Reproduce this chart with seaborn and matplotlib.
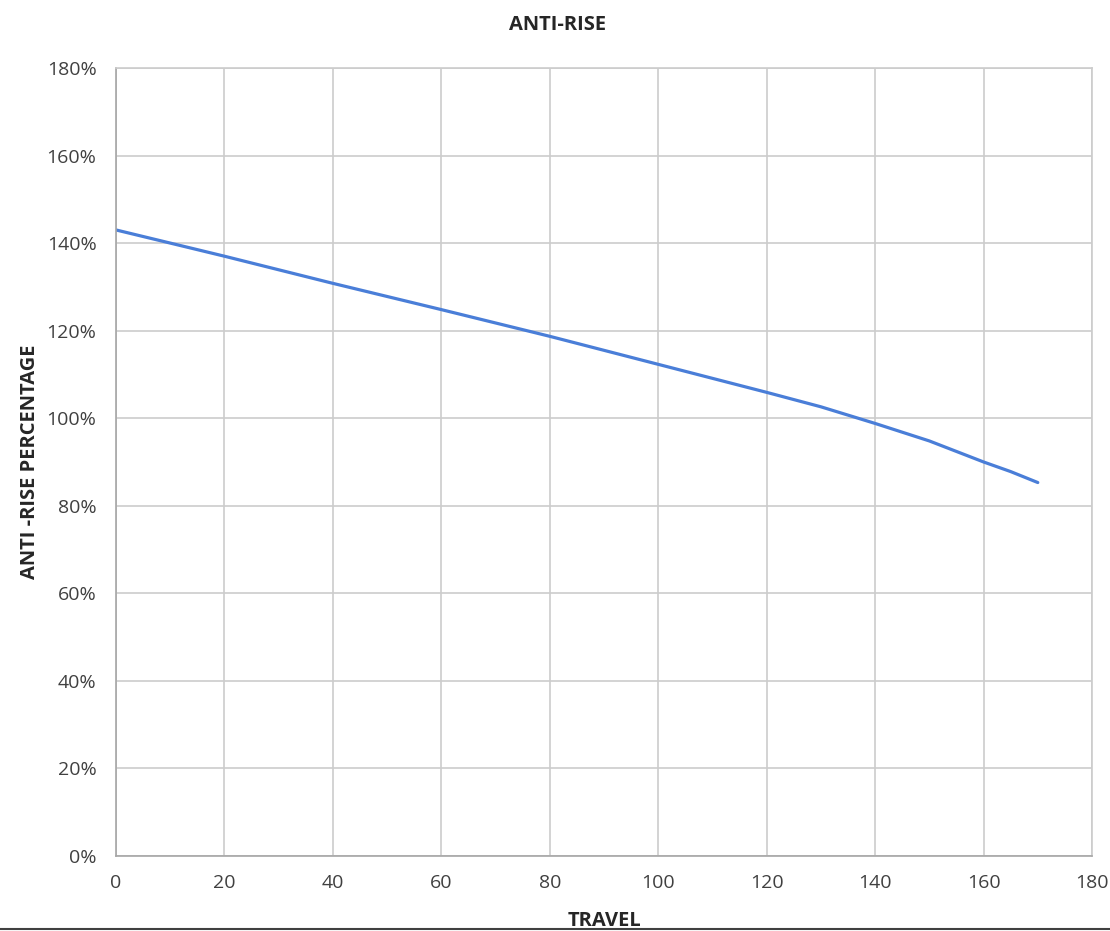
import matplotlib
matplotlib.use('Agg')
import matplotlib.pyplot as plt
import seaborn as sns
import pandas as pd
from matplotlib.ticker import PercentFormatter
from matplotlib.lines import Line2D

# values
travel = [0, 20, 40, 60, 80, 100, 120, 130, 140, 150, 160, 165, 170]
anti_rise = [143.0, 137.0, 130.8, 124.8, 118.7, 112.3, 105.9, 102.6, 98.8, 94.8, 90.0, 87.8, 85.3]

df = pd.DataFrame({"travel": travel, "anti_rise": anti_rise})

sns.set_theme(style="whitegrid")
plt.rcParams['font.family'] = ['Open Sans', 'DejaVu Sans']

fig = plt.figure(figsize=(11.1, 9.31), dpi=100)
ax = fig.add_axes([0.1045, 0.0806, 0.8793, 0.8464])

sns.lineplot(data=df, x="travel", y="anti_rise", ax=ax, color="#4a7ed8",
             linewidth=2.3, estimator=None)

ax.set_xlim(0, 180)
ax.set_ylim(0, 180)
ax.set_xticks(range(0, 181, 20))
ax.set_yticks(range(0, 181, 20))
ax.yaxis.set_major_formatter(PercentFormatter(decimals=0))
ax.tick_params(axis='both', labelsize=14, colors="#404040", length=0)
ax.tick_params(axis='x', pad=13)
ax.tick_params(axis='y', pad=14)
ax.grid(True, color="#cccccc", linewidth=1.2)
for side in ["top", "right"]:
    ax.spines[side].set_color("#cccccc")
    ax.spines[side].set_linewidth(1.2)
ax.spines["left"].set_color("#a6a6a6")
ax.spines["bottom"].set_color("#a6a6a6")
ax.spines["left"].set_linewidth(1.2)
ax.spines["bottom"].set_linewidth(1.2)

ax.set_xlabel("TRAVEL", fontsize=14.5, fontweight="bold", color="#262626", labelpad=14)
ax.set_ylabel("ANTI -RISE PERCENTAGE", fontsize=14.5, fontweight="bold", color="#262626", labelpad=5)
fig.text(0.502, 0.973, "ANTI-RISE", ha="center", va="center", fontsize=14.5,
         fontweight="bold", color="#262626")

fig.add_artist(Line2D([0, 1], [0.0025, 0.0025], color="#404040", linewidth=1.5,
                      transform=fig.transFigure))

fig.savefig("out.png", dpi=100)
